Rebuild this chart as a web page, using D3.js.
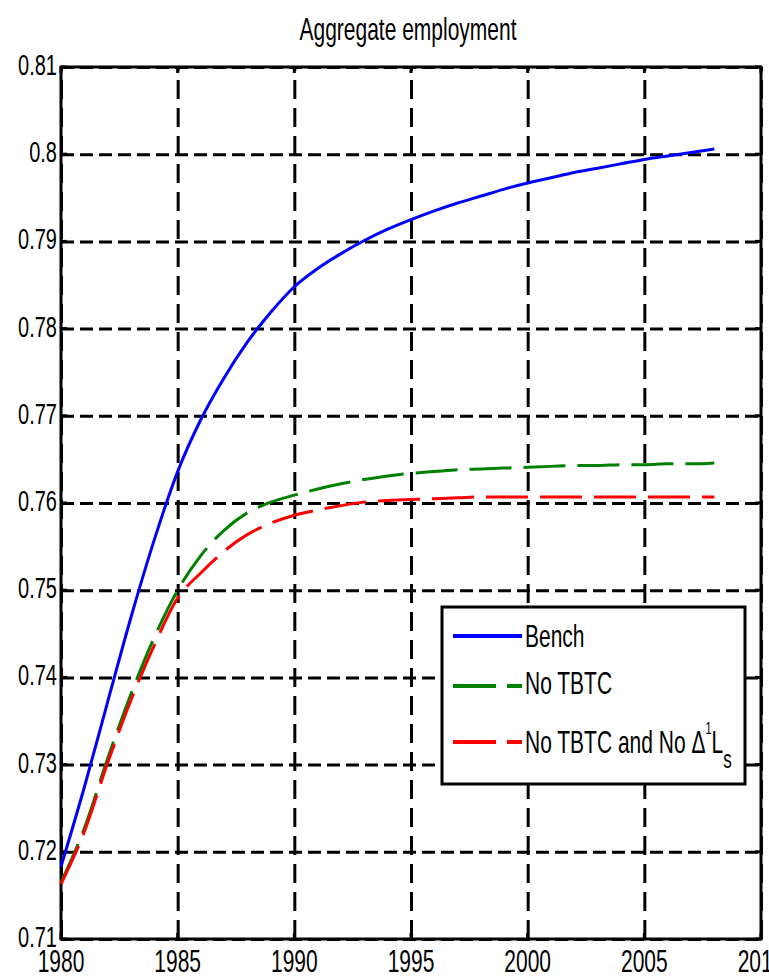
<!DOCTYPE html>
<html>
<head>
<meta charset="utf-8">
<script src="https://cdn.jsdelivr.net/npm/d3@7"></script>
<style>
  html, body { margin: 0; padding: 0; background: #fff; }
  svg { display: block; }
  text { font-family: "Liberation Sans", Arial, sans-serif; fill: #000; }
</style>
</head>
<body>
<svg id="chart" width="769" height="980"></svg>
<script>
// ---- data ----
const title = "Aggregate employment";
const years = [1980,1981,1982,1983,1984,1985,1986,1987,1988,1989,1990,1991,1992,1993,1994,1995,1996,1997,1998,1999,2000,2001,2002,2003,2004,2005,2006,2007,2008];
const bench = [0.7183,0.7274,0.7372,0.7469,0.7558,0.7636,0.7696,0.7744,0.7785,0.7819,0.7848,0.7869,0.7886,0.7901,0.7914,0.7925,0.7935,0.7944,0.7952,0.7960,0.7967,0.7973,0.7979,0.7984,0.7989,0.7994,0.7998,0.8002,0.8006];
const noTBTC = [0.7165,0.7227,0.7307,0.7381,0.7446,0.7500,0.7540,0.7569,0.7589,0.7601,0.7609,0.7616,0.7622,0.7627,0.7631,0.7634,0.7636,0.7638,0.7639,0.7640,0.7641,0.7642,0.7643,0.7643,0.7644,0.7644,0.7645,0.7645,0.7646];
const noTBTCnoL = [0.7163,0.7223,0.7302,0.7374,0.7437,0.7491,0.7520,0.7545,0.7564,0.7577,0.7586,0.7592,0.7597,0.7601,0.7603,0.7604,0.7605,0.7606,0.7607,0.7607,0.7607,0.7607,0.7607,0.7607,0.7607,0.7607,0.7607,0.7607,0.7607];
const xTicks = [1980,1985,1990,1995,2000,2005,2010];
const xTickLabels = ["1980","1985","1990","1995","2000","2005","2010"];
const yTicks = [0.71,0.72,0.73,0.74,0.75,0.76,0.77,0.78,0.79,0.80,0.81];
const yTickLabels = ["0.71","0.72","0.73","0.74","0.75","0.76","0.77","0.78","0.79","0.8","0.81"];
const seriesNames = ["Bench","No TBTC","No TBTC and No "];
const seriesColors = ["#0000ff","#008000","#ff0000"];

// ---- layout ----
const L = 61, R = 761, T = 67, B = 939;
const SY = 1.5; // vertical text stretch
const svg = d3.select("#chart");
const x = d3.scaleLinear().domain([1980, 2010]).range([L, R]);
const y = d3.scaleLinear().domain([0.71, 0.81]).range([B, T]);

function stretchedText(g, px, py, str, anchor, size) {
  return g.append("text")
    .attr("transform", `translate(${px},${py}) scale(1,${SY})`)
    .attr("text-anchor", anchor)
    .attr("font-size", size)
    .text(str);
}

// grid lines via axes
const gx = svg.append("g").attr("transform", `translate(0,${B})`)
  .call(d3.axisBottom(x).tickValues(xTicks).tickSize(-(B - T)).tickFormat(""));
gx.select(".domain").remove();
gx.selectAll("line").attr("stroke", "#000").attr("stroke-width", 3).attr("stroke-dasharray", "19,9");

const gy = svg.append("g").attr("transform", `translate(${L},0)`)
  .call(d3.axisLeft(y).tickValues(yTicks).tickSize(-(R - L)).tickFormat(""));
gy.select(".domain").remove();
gy.selectAll("line").attr("stroke", "#000").attr("stroke-width", 3).attr("stroke-dasharray", "13,6");

// inner tick marks on all sides
const tickLen = 6;
const ticks = svg.append("g").attr("stroke", "#000").attr("stroke-width", 3);
xTicks.forEach(v => {
  ticks.append("line").attr("x1", x(v)).attr("x2", x(v)).attr("y1", B).attr("y2", B - tickLen);
  ticks.append("line").attr("x1", x(v)).attr("x2", x(v)).attr("y1", T).attr("y2", T + tickLen);
});
yTicks.forEach(v => {
  ticks.append("line").attr("x1", L).attr("x2", L + tickLen).attr("y1", y(v)).attr("y2", y(v));
  ticks.append("line").attr("x1", R).attr("x2", R - tickLen).attr("y1", y(v)).attr("y2", y(v));
});

// frame
svg.append("rect").attr("x", L).attr("y", T).attr("width", R - L).attr("height", B - T)
  .attr("fill", "none").attr("stroke", "#000").attr("stroke-width", 3);

// tick labels
const lab = svg.append("g");
yTicks.forEach((v, i) => stretchedText(lab, 57, y(v) + 8, yTickLabels[i], "end", 20));
xTicks.forEach((v, i) => stretchedText(lab, x(v), 972, xTickLabels[i], "middle", 21));

// title
stretchedText(svg, 408, 40, title, "middle", 21);

// curves
const allSeries = [bench, noTBTC, noTBTCnoL];
const dashes = [null, "42,12", "42,12"];
const line = d3.line().x((d, i) => x(years[i])).y(d => y(d)).curve(d3.curveMonotoneX);
allSeries.forEach((s, k) => {
  svg.append("path").datum(s)
    .attr("d", line)
    .attr("fill", "none")
    .attr("stroke", seriesColors[k])
    .attr("stroke-width", 3)
    .attr("stroke-dasharray", dashes[k]);
});

// legend
const lg = svg.append("g");
lg.append("rect").attr("x", 442).attr("y", 607).attr("width", 303).attr("height", 177)
  .attr("fill", "#fff").attr("stroke", "#000").attr("stroke-width", 3);
const legY = [636, 686, 742];
const legBase = [647, 694, 753];
seriesNames.forEach((name, k) => {
  lg.append("line").attr("x1", 453).attr("x2", 522).attr("y1", legY[k]).attr("y2", legY[k])
    .attr("stroke", seriesColors[k]).attr("stroke-width", 4)
    .attr("stroke-dasharray", k === 0 ? null : "43,11");
  const t = lg.append("text")
    .attr("transform", `translate(525,${legBase[k]}) scale(1,${SY})`)
    .attr("font-size", 21);
  t.append("tspan").text(k === 2 ? name + "\u0394" : name);
  if (k === 2) {
    t.append("tspan").attr("font-size", 11).attr("dy", -13).text("1");
    t.append("tspan").attr("font-size", 21).attr("dy", 13).text("L");
    t.append("tspan").attr("font-size", 17).attr("dy", 10).text("s");
  }
});
</script>
</body>
</html>
